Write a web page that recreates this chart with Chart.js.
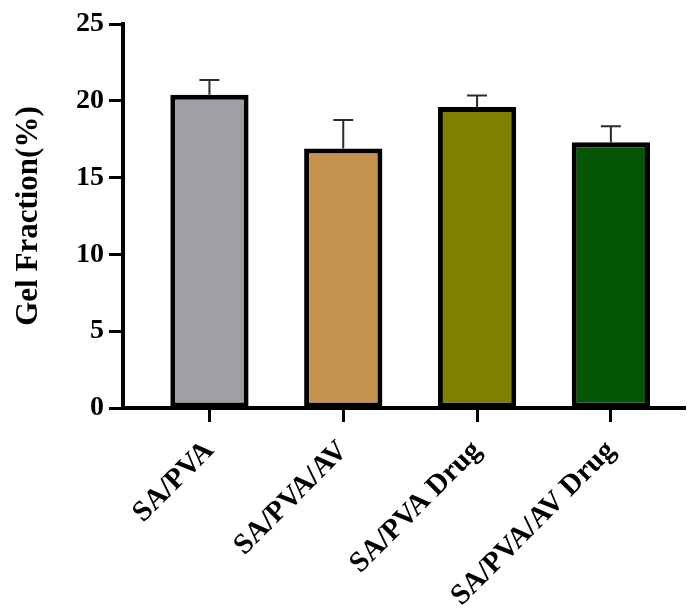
<!DOCTYPE html>
<html>
<head>
<meta charset="utf-8">
<script src="https://cdn.jsdelivr.net/npm/chart.js@4"></script>
<style>
  html, body { margin: 0; padding: 0; background: #fff; }
  #wrap { width: 687px; height: 611px; }
</style>
</head>
<body>
<div id="wrap"><canvas id="chart" width="687" height="611"></canvas></div>
<script>
// gel fraction per formulation, mean and SD (%)
const categories = ['SA/PVA', 'SA/PVA/AV', 'SA/PVA Drug', 'SA/PVA/AV Drug'];
const means = [20.4, 16.9, 19.6, 17.3];
const errors = [0.95, 1.85, 0.75, 1.05];
const barColors = ['#a09fa4', '#c4934e', '#808000', '#045604'];
const yTicks = [0, 5, 10, 15, 20, 25];

const serif = '"Liberation Serif"';

// draws the SD whiskers above each bar
const errorBars = {
    id: 'errorBars',
    afterDatasetsDraw(chart) {
        const { ctx, scales: { y } } = chart;
        const meta = chart.getDatasetMeta(0);
        ctx.save();
        ctx.strokeStyle = '#2a2a2a';
        ctx.lineWidth = 2;
        meta.data.forEach((bar, i) => {
            const top = y.getPixelForValue(means[i] + errors[i]);
            ctx.beginPath();
            ctx.moveTo(bar.x, bar.y);
            ctx.lineTo(bar.x, top);
            ctx.moveTo(bar.x - 10, top);
            ctx.lineTo(bar.x + 10, top);
            ctx.stroke();
        });
        ctx.restore();
    }
};

new Chart(document.getElementById('chart'), {
    type: 'bar',
    data: {
        datasets: [{
            data: means.map((v, i) => ({ x: i, y: v })),
            backgroundColor: barColors,
            borderColor: '#000',
            borderWidth: 5,
            borderSkipped: false,
            categoryPercentage: 1,
            barPercentage: 0.585
        }]
    },
    options: {
        responsive: false,
        animation: false,
        layout: { padding: { top: 24, right: 2, left: 0, bottom: 0 } },
        plugins: { legend: { display: false }, tooltip: { enabled: false } },
        scales: {
            x: {
                type: 'linear',
                offset: false,
                min: -0.646,
                max: 3.554,
                afterBuildTicks: s => { s.ticks = categories.map((c, i) => ({ value: i })); },
                afterFit: s => { s.height = 203; },
                border: { display: true, color: '#000', width: 4 },
                grid: { offset: false, drawOnChartArea: false, color: '#000', tickLength: 14, tickWidth: 3 },
                ticks: {
                    color: '#000',
                    font: { family: serif, size: 29, weight: 'bold' },
                    minRotation: 45,
                    maxRotation: 45,
                    padding: 12,
                    callback: v => categories[v]
                }
            },
            y: {
                min: 0,
                max: 25,
                afterBuildTicks: s => { s.ticks = yTicks.map(v => ({ value: v })); },
                afterFit: s => { s.width = 123; },
                border: { display: true, color: '#000', width: 4 },
                grid: { drawOnChartArea: false, color: '#000', tickLength: 14, tickWidth: 3 },
                ticks: {
                    color: '#000',
                    font: { family: serif, size: 28, weight: 'bold' },
                    padding: 5
                },
                title: {
                    display: true,
                    text: 'Gel Fraction(%)',
                    color: '#000',
                    font: { family: serif, size: 31, weight: 'bold' },
                    padding: { top: 10, bottom: 0 }
                }
            }
        }
    },
    plugins: [errorBars]
});
</script>
</body>
</html>
